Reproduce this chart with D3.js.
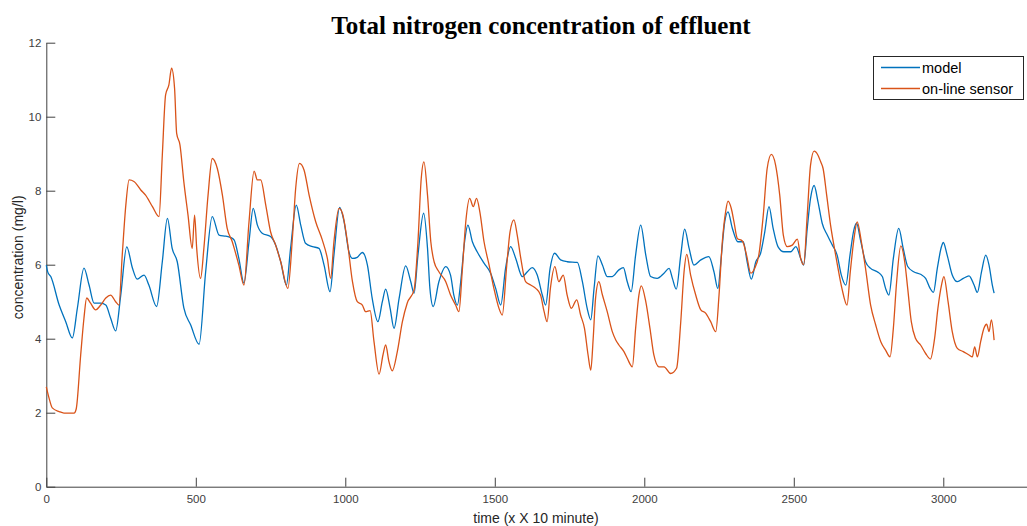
<!DOCTYPE html>
<html>
<head>
<meta charset="utf-8">
<script src="https://cdn.jsdelivr.net/npm/d3@7"></script>
<style>
  html, body { margin: 0; padding: 0; background: #fff; }
  svg { display: block; }
</style>
</head>
<body>
<svg id="chart" width="1027" height="526"></svg>
<script>
// Time axis in units of 10 minutes; concentration in mg/l
const modelTime = [0,5,15,43,65,87,104,126,143,160,182,199,215,232,249,269,288,304,327,343,369,388,405,421,438,460,483,511,533,555,578,600,615,628,644,661,678,692,706,722,750,767,784,803,817,836,851,867,890,912,929,949,962,981,996,1012,1024,1040,1057,1074,1090,1109,1124,1135,1150,1163,1180,1202,1219,1230,1243,1262,1275,1283,1294,1313,1336,1352,1363,1375,1386,1399,1410,1425,1441,1464,1486,1503,1520,1536,1553,1570,1592,1609,1625,1642,1659,1670,1685,1700,1720,1742,1776,1793,1809,1821,1832,1845,1860,1876,1893,1915,1930,1943,1956,1971,1988,2005,2021,2043,2066,2083,2094,2107,2122,2135,2150,2166,2189,2216,2233,2246,2258,2269,2280,2294,2313,2331,2344,2358,2373,2389,2403,2417,2431,2447,2467,2490,2507,2523,2533,2545,2556,2568,2581,2595,2612,2629,2645,2659,2674,2688,2701,2710,2723,2740,2757,2779,2796,2807,2818,2833,2851,2866,2881,2901,2924,2941,2956,2967,2980,2994,3000,3013,3030,3047,3067,3086,3103,3114,3128,3142,3153,3164,3170];
const modelConc = [5.99,5.8,5.68,4.91,4.46,4.02,4.83,5.91,5.45,4.96,4.96,4.91,4.56,4.21,5.18,6.48,5.91,5.61,5.72,5.45,4.87,6.08,7.25,6.44,6.08,4.83,4.37,3.85,5.81,7.30,6.80,6.77,6.74,6.67,6.17,5.50,6.62,7.52,7.07,6.85,6.76,6.53,6.08,5.45,6.44,7.61,7.07,6.58,6.49,6.44,5.99,5.27,6.26,7.55,7.16,6.35,6.17,6.2,6.33,5.99,5.09,4.46,5.0,5.34,4.82,4.28,5.09,5.97,5.54,5.23,6.26,7.39,6.44,5.36,4.87,5.54,5.95,5.72,5.18,4.91,5.54,6.62,7.07,6.62,6.35,6.04,5.77,5.36,4.91,5.90,6.49,6.17,5.68,5.81,5.92,5.72,5.18,4.91,5.90,6.31,6.13,6.08,6.06,5.54,4.82,4.51,5.36,6.24,5.99,5.68,5.68,5.86,5.92,5.54,5.27,6.26,7.07,6.26,5.68,5.63,5.77,5.90,5.63,5.34,6.26,6.96,6.44,5.99,6.13,6.22,5.81,5.36,6.26,7.16,7.43,7.0,6.62,6.62,6.08,5.61,6.08,6.31,6.89,7.57,6.98,6.49,6.35,6.35,6.49,6.17,5.99,6.98,7.79,8.14,7.7,7.12,6.80,6.53,6.26,5.72,5.45,6.26,6.94,7.12,6.67,6.08,5.90,5.81,5.68,5.36,5.18,6.17,6.98,6.44,5.95,5.81,5.74,5.63,5.36,5.25,5.90,6.49,6.6,6.26,5.72,5.54,5.63,5.70,5.45,5.25,5.81,6.26,5.99,5.45,5.23];

const sensorTime = [0,9,20,43,59,93,100,115,126,135,148,165,182,199,215,232,243,254,266,277,293,316,332,355,377,388,399,410,419,429,436,447,460,474,488,496,503,516,527,541,555,572,589,605,622,630,644,661,678,695,706,717,734,750,767,784,808,823,834,847,862,879,901,923,940,951,962,979,990,1007,1024,1040,1057,1068,1083,1096,1113,1126,1135,1146,1157,1174,1191,1207,1230,1243,1254,1263,1275,1286,1297,1313,1336,1352,1369,1380,1391,1403,1416,1428,1439,1450,1464,1481,1497,1514,1525,1540,1551,1564,1575,1587,1603,1620,1637,1653,1665,1675,1686,1701,1714,1729,1742,1756,1774,1787,1800,1812,1821,1829,1837,1848,1860,1876,1893,1905,1915,1932,1943,1960,1971,1982,1990,2005,2019,2032,2049,2066,2088,2108,2122,2133,2142,2155,2172,2189,2205,2222,2239,2250,2261,2272,2280,2291,2300,2311,2328,2342,2356,2369,2383,2398,2411,2425,2439,2453,2465,2478,2495,2512,2523,2533,2545,2556,2568,2581,2590,2598,2610,2623,2636,2646,2661,2678,2689,2703,2712,2726,2740,2757,2774,2791,2807,2822,2833,2844,2858,2871,2881,2893,2907,2924,2941,2957,2971,2982,2994,3002,3016,3030,3047,3067,3086,3097,3105,3114,3125,3136,3145,3153,3161,3170];
const sensorConc = [2.70,2.40,2.13,2.03,1.99,1.99,2.1,3.56,4.56,5.10,4.96,4.78,4.91,5.10,5.18,5.0,4.91,6.26,7.61,8.29,8.25,8.02,7.88,7.57,7.30,8.96,10.59,10.86,11.31,10.77,9.55,9.24,8.24,7.34,6.44,7.34,6.44,5.63,6.44,7.88,8.87,8.60,7.88,6.98,6.62,6.4,5.99,5.45,7.16,8.53,8.29,8.29,7.61,6.89,6.53,6.08,5.36,6.71,8.06,8.74,8.56,7.88,7.16,6.67,6.17,5.63,6.62,7.52,7.4,6.62,5.54,5.0,4.91,4.73,4.76,3.92,3.04,3.56,3.83,3.38,3.13,3.65,4.46,4.96,5.32,6.62,8.33,8.78,7.88,6.62,6.08,5.81,5.54,5.18,4.91,4.73,5.81,7.16,7.79,7.57,7.79,7.43,6.62,5.99,5.36,4.82,4.64,5.99,6.89,7.21,6.80,6.17,5.54,5.45,5.36,5.18,4.73,4.46,5.36,5.95,5.54,5.72,5.18,4.82,5.05,4.64,4.28,3.56,3.15,3.99,5.09,5.54,5.18,4.73,4.19,3.96,3.83,3.65,3.47,3.24,4.28,5.18,5.43,5.0,4.28,3.56,3.24,3.24,3.06,3.2,4.46,5.81,6.28,5.72,5.18,4.78,4.69,4.46,4.19,5.18,6.62,7.43,7.72,7.52,7.16,6.71,6.64,6.26,5.77,5.90,6.26,7.34,8.60,8.98,8.7,7.88,6.80,6.49,6.53,6.69,6.17,6.0,7.34,8.69,9.07,8.96,8.78,8.6,7.88,7.07,6.44,5.99,5.36,4.91,5.81,6.80,7.16,6.62,5.90,4.91,4.37,3.92,3.69,3.51,4.28,5.54,6.51,6.08,5.36,4.46,4.01,3.83,3.6,3.45,4.01,4.82,5.45,5.68,5.0,4.19,3.74,3.65,3.56,3.51,3.78,3.51,3.92,4.28,4.39,4.19,4.51,3.96];

const xTicks = [0, 500, 1000, 1500, 2000, 2500, 3000];
const yTicks = [0, 2, 4, 6, 8, 10, 12];
const seriesNames = ["model", "on-line sensor"];
const seriesColors = ["#0072BD", "#D95319"];

const svg = d3.select("#chart");
const axisColor = "#404040";
const sans = "'Liberation Sans', Arial, sans-serif";

const x = d3.scaleLinear().domain([0, 3280]).range([46.3, 1027]);
const y = d3.scaleLinear().domain([0, 12]).range([486.7, 42.7]);

// Title
svg.append("text")
  .attr("x", 541).attr("y", 34)
  .attr("text-anchor", "middle")
  .attr("font-family", "'Liberation Serif', 'Times New Roman', serif")
  .attr("font-weight", "bold")
  .attr("font-size", 25)
  .attr("fill", "#000")
  .text("Total nitrogen concentration of effluent");

// Axes with inward ticks
const xAxis = d3.axisBottom(x).tickValues(xTicks).tickFormat(d3.format("d"))
  .tickSizeInner(-9).tickSizeOuter(0).tickPadding(8);
const yAxis = d3.axisLeft(y).tickValues(yTicks).tickFormat(d3.format("d"))
  .tickSizeInner(-9).tickSizeOuter(0).tickPadding(5);

const gx = svg.append("g").attr("transform", `translate(0,${y(0)})`).call(xAxis);
const gy = svg.append("g").attr("transform", `translate(${x(0)},0)`).call(yAxis);

[gx, gy].forEach(g => {
  g.select(".domain").attr("stroke", axisColor).attr("stroke-width", 1);
  g.selectAll(".tick line").attr("stroke", axisColor).attr("stroke-width", 1);
  g.selectAll(".tick text")
    .attr("fill", axisColor)
    .attr("font-family", sans)
    .attr("font-size", 11.5);
});

// Axis labels
svg.append("text")
  .attr("x", 536).attr("y", 523)
  .attr("text-anchor", "middle")
  .attr("font-family", sans)
  .attr("font-size", 14)
  .attr("fill", "#262626")
  .text("time (x X 10 minute)");

svg.append("text")
  .attr("transform", `translate(23,${y(6.2)}) rotate(-90)`)
  .attr("text-anchor", "middle")
  .attr("font-family", sans)
  .attr("font-size", 14)
  .attr("fill", "#262626")
  .text("concentration (mg/l)");

// Series lines
const line = d3.line()
  .x(d => x(d[0]))
  .y(d => y(d[1]))
  .curve(d3.curveMonotoneX);

const series = [
  d3.zip(modelTime, modelConc),
  d3.zip(sensorTime, sensorConc)
];

series.forEach((pts, i) => {
  svg.append("path")
    .datum(pts)
    .attr("fill", "none")
    .attr("stroke", seriesColors[i])
    .attr("stroke-width", 1.3)
    .attr("stroke-linejoin", "round")
    .attr("d", line);
});

// Legend
const legend = svg.append("g");
legend.append("rect")
  .attr("x", 873.5).attr("y", 56.5)
  .attr("width", 150).attr("height", 43)
  .attr("fill", "#fff")
  .attr("stroke", "#262626")
  .attr("stroke-width", 1);

seriesNames.forEach((name, i) => {
  const ly = 67.5 + i * 21;
  legend.append("line")
    .attr("x1", 881).attr("x2", 920)
    .attr("y1", ly).attr("y2", ly)
    .attr("stroke", seriesColors[i])
    .attr("stroke-width", 1.3);
  legend.append("text")
    .attr("x", 922).attr("y", ly + 5)
    .attr("font-family", sans)
    .attr("font-size", 14.5)
    .attr("fill", "#000")
    .text(name);
});
</script>
</body>
</html>
